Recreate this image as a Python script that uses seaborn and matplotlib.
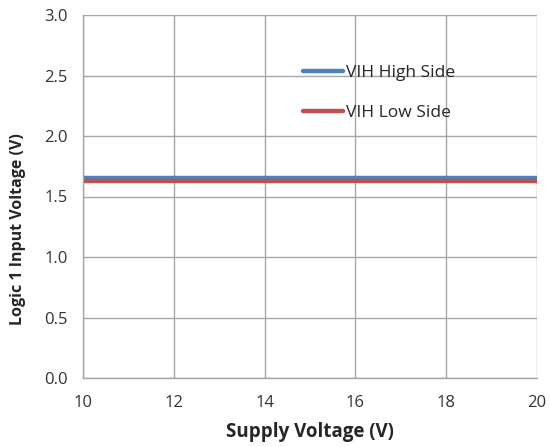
import numpy as np
import matplotlib
matplotlib.use('Agg')
import matplotlib.pyplot as plt
import seaborn as sns
import pandas as pd

# data
supply_v = [10, 12, 14, 16, 18, 20]
vih_high = [1.65, 1.65, 1.65, 1.65, 1.65, 1.65]
vih_low = [1.63, 1.63, 1.63, 1.63, 1.63, 1.63]
series_names = ['VIH High Side', 'VIH Low Side']
x_ticks = [10, 12, 14, 16, 18, 20]
y_ticks = [0.0, 0.5, 1.0, 1.5, 2.0, 2.5, 3.0]

df = pd.DataFrame({
    'Supply': supply_v * 2,
    'Voltage': vih_high + vih_low,
    'Series': [series_names[0]] * len(supply_v) + [series_names[1]] * len(supply_v),
})

sns.set_style('white')
plt.rcParams['font.family'] = ['Open Sans', 'DejaVu Sans']

fig = plt.figure(figsize=(5.5, 4.47), dpi=100)
ax = fig.add_axes([83 / 550, 69 / 447, (537 - 83) / 550, (378 - 15) / 447])

sns.lineplot(data=df, x='Supply', y='Voltage', hue='Series',
             palette=['#4F81BD', '#C0504D'], linewidth=3.2, ax=ax)

ax.set_xlim(10, 20)
ax.set_ylim(0, 3.0)
ax.set_xticks(x_ticks)
ax.set_yticks(y_ticks)
ax.set_yticklabels([f'{v:.1f}' for v in y_ticks])
ax.grid(True, color='#A6A6A6', linewidth=1.0)
ax.set_axisbelow(True)
for s in ['top', 'right']:
    ax.spines[s].set_visible(False)
for s in ['left', 'bottom']:
    ax.spines[s].set_color('#A6A6A6')
    ax.spines[s].set_linewidth(1.0)
ax.tick_params(axis='both', direction='out', length=5, width=1.0,
               color='#A6A6A6', labelsize=12, labelcolor='#333333')
ax.tick_params(axis='x', pad=7)
ax.tick_params(axis='y', pad=6)

ax.set_xlabel('Supply Voltage (V)', fontsize=13.5, fontweight='bold', labelpad=8)
ax.set_ylabel('Logic 1 Input Voltage (V)', fontsize=11.5, fontweight='bold')
ax.yaxis.set_label_coords(-0.125, 0.41)

ax.legend(loc='upper left', bbox_to_anchor=(0.485, 0.862), frameon=False,
          fontsize=12.5, handlelength=2.3, handletextpad=0.15,
          labelspacing=1.35, borderaxespad=0, borderpad=0, title=None)

fig.savefig('out.png', dpi=100, facecolor='white')
